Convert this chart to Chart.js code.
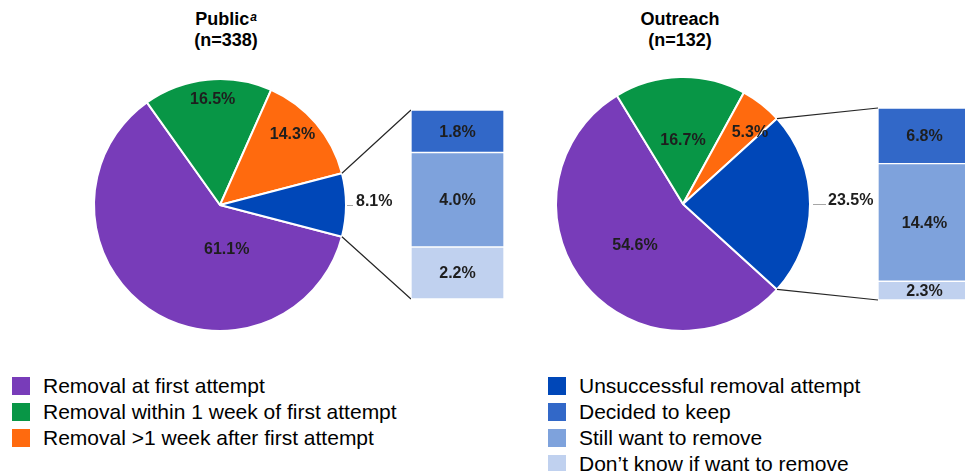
<!DOCTYPE html>
<html>
<head>
<meta charset="utf-8">
<script src="https://cdn.jsdelivr.net/npm/chart.js@4.4.0/dist/chart.umd.min.js"></script>
<style>
html,body{margin:0;padding:0;background:#fff;overflow:hidden;}
#wrap{position:relative;width:965px;height:471px;overflow:hidden;font-family:"Liberation Sans",Arial,sans-serif;color:#000;}
#wrap canvas{position:absolute;}
.title{position:absolute;top:9px;width:200px;font-weight:bold;font-size:18px;line-height:21px;text-align:center;}
.title sup{font-style:italic;font-size:12px;vertical-align:top;position:relative;top:-2px;margin-left:1px;}
.legend{position:absolute;font-size:21px;}
.legend .item{position:relative;height:26px;line-height:26px;white-space:nowrap;padding-left:31px;}
.legend .sw{position:absolute;left:0;top:4px;width:18px;height:18px;}
</style>
</head>
<body>
<div id="wrap">
  <div class="title" style="left:126px">Public<sup>a</sup><br>(n=338)</div>
  <div class="title" style="left:580px">Outreach<br>(n=132)</div>
  <canvas id="pie1" width="480" height="350" style="left:0;top:0"></canvas>
  <canvas id="pie2" width="485" height="350" style="left:480px;top:0"></canvas>
  <canvas id="bar1" width="93" height="189" style="left:411px;top:110px"></canvas>
  <canvas id="bar2" width="93" height="192" style="left:878px;top:108px"></canvas>
  <div class="legend" id="legLeft" style="left:12px;top:373px"></div>
  <div class="legend" id="legRight" style="left:548px;top:373px"></div>
</div>
<script>
// ---- data ----
const pieCategories = ["Removal at first attempt", "Removal within 1 week of first attempt", "Removal >1 week after first attempt", "Unsuccessful removal attempt"];
const barCategories = ["Don\u2019t know if want to remove", "Still want to remove", "Decided to keep"]; // bottom -> top
const publicPie = [61.1, 16.5, 14.3, 8.1];
const outreachPie = [54.6, 16.7, 5.3, 23.5];
const publicBar = [2.2, 4.0, 1.8];
const outreachBar = [2.3, 14.4, 6.8];

// ---- style ----
const pieColors = ["#783CB9", "#089646", "#FF6A0E", "#0047B8"];
const barColors = ["#C0D1EF", "#7EA2DC", "#3268C8"];
const FONT = '"Liberation Sans", Arial, sans-serif';
const LABEL_FONT = 'bold 16px ' + FONT;

// label placement per slice: [angle in degrees (clockwise from 3 o'clock), fraction of radius]
const pie1LabelPos = [[81.5, 0.36], [266, 0.835], [316, 0.8], null];
const pie2LabelPos = [[139.2, 0.5], [270, 0.5], [313.2, 0.77], null];

function fmt(v){ return v.toFixed(1) + "%"; }

// ---- bar charts ----
const barLabelPlugin = {
  id: 'barLabels',
  afterDatasetsDraw(chart){
    const ctx = chart.ctx;
    ctx.save();
    ctx.font = LABEL_FONT;
    ctx.fillStyle = '#1e1e1e';
    ctx.textAlign = 'center';
    ctx.textBaseline = 'middle';
    chart.data.datasets.forEach((ds, i) => {
      const el = chart.getDatasetMeta(i).data[0];
      ctx.fillText(fmt(ds.data[0]), el.x, (el.y + el.base) / 2 + 1);
    });
    ctx.restore();
  }
};

function makeBar(id, values){
  const total = values.reduce((a, b) => a + b, 0);
  return new Chart(document.getElementById(id), {
    type: 'bar',
    data: {
      labels: [''],
      datasets: values.map((v, i) => ({
        label: barCategories[i],
        data: [v],
        backgroundColor: barColors[i],
        borderColor: '#ffffff',
        borderWidth: 1,
        borderSkipped: false,
        barPercentage: 1,
        categoryPercentage: 1
      }))
    },
    options: {
      responsive: false,
      animation: false,
      events: [],
      layout: { padding: 0 },
      scales: {
        x: { display: false, stacked: true },
        y: { display: false, stacked: true, min: 0, max: total }
      },
      plugins: { legend: { display: false }, tooltip: { enabled: false } }
    },
    plugins: [barLabelPlugin]
  });
}

const bar1 = makeBar('bar1', publicBar);
const bar2 = makeBar('bar2', outreachBar);

// ---- pie charts ----
function makePiePlugin(labelPos, barChart, outside){
  return {
    id: 'pieExtras',
    afterDatasetsDraw(chart){
      const ctx = chart.ctx;
      const meta = chart.getDatasetMeta(0);
      const data = chart.data.datasets[0].data;
      ctx.save();
      ctx.font = LABEL_FONT;
      ctx.fillStyle = '#1e1e1e';
      ctx.textBaseline = 'middle';
      meta.data.forEach((arc, i) => {
        const r = arc.outerRadius;
        const pos = labelPos[i];
        if (pos) {
          const a = pos[0] * Math.PI / 180;
          ctx.textAlign = 'center';
          ctx.fillText(fmt(data[i]), arc.x + Math.cos(a) * r * pos[1], arc.y + Math.sin(a) * r * pos[1]);
        } else {
          const mid = (arc.startAngle + arc.endAngle) / 2;
          const cx = arc.x + Math.cos(mid) * r, cy = arc.y + Math.sin(mid) * r;
          ctx.strokeStyle = '#A6A6A6';
          ctx.lineWidth = 1;
          ctx.beginPath();
          ctx.moveTo(cx + outside.l0, cy + 0.5);
          ctx.lineTo(cx + outside.l1, cy + 0.5);
          ctx.stroke();
          ctx.textAlign = 'left';
          ctx.fillText(fmt(data[i]), cx + outside.tx, cy - 3);
        }
      });
      // connector lines from the exploded slice to the bar
      const arc = meta.data[meta.data.length - 1];
      const r = arc.outerRadius;
      const dx = barChart.canvas.offsetLeft - chart.canvas.offsetLeft;
      const dy = barChart.canvas.offsetTop - chart.canvas.offsetTop;
      const nb = barChart.data.datasets.length;
      const topEl = barChart.getDatasetMeta(nb - 1).data[0];
      const botEl = barChart.getDatasetMeta(0).data[0];
      const bx = topEl.x - topEl.width / 2 + dx;
      const byTop = topEl.y + dy;
      const byBot = botEl.base + dy;
      ctx.strokeStyle = '#262626';
      ctx.lineWidth = 1.2;
      ctx.beginPath();
      ctx.moveTo(arc.x + Math.cos(arc.startAngle) * r, arc.y + Math.sin(arc.startAngle) * r);
      ctx.lineTo(bx, byTop);
      ctx.moveTo(arc.x + Math.cos(arc.endAngle) * r, arc.y + Math.sin(arc.endAngle) * r);
      ctx.lineTo(bx, byBot);
      ctx.stroke();
      ctx.restore();
    }
  };
}

function makePie(id, values, labelPos, barChart, padding, radius, outside){
  // start the first slice so that the last (exploded) slice is centred at 3 o'clock
  const last = values[values.length - 1];
  const total = values.reduce((a, b) => a + b, 0);
  const startDeg = (last / total) * 180; // clockwise from 3 o'clock
  return new Chart(document.getElementById(id), {
    type: 'pie',
    data: {
      labels: pieCategories,
      datasets: [{
        data: values,
        backgroundColor: pieColors,
        borderColor: '#ffffff',
        borderWidth: 2,
        radius: radius
      }]
    },
    options: {
      responsive: false,
      animation: false,
      events: [],
      rotation: startDeg + 90,
      layout: { padding: padding },
      plugins: { legend: { display: false }, tooltip: { enabled: false } }
    },
    plugins: [makePiePlugin(labelPos, barChart, outside)]
  });
}

makePie('pie1', publicPie, pie1LabelPos, bar1, { left: 94, right: 134, top: 79, bottom: 19 }, 126, { l0: 1, l1: 7, tx: 10 });
makePie('pie2', outreachPie, pie2LabelPos, bar2, { left: 76, right: 155, top: 77, bottom: 19 }, 127, { l0: 3, l1: 16, tx: 18 });

// ---- legends (HTML text built from the category arrays) ----
function addItems(el, names, colors){
  names.forEach((n, i) => {
    const d = document.createElement('div');
    d.className = 'item';
    const s = document.createElement('span');
    s.className = 'sw';
    s.style.background = colors[i];
    d.appendChild(s);
    d.appendChild(document.createTextNode(n));
    el.appendChild(d);
  });
}
addItems(document.getElementById('legLeft'), pieCategories.slice(0, 3), pieColors.slice(0, 3));
addItems(document.getElementById('legRight'),
  [pieCategories[3]].concat(barCategories.slice().reverse()),
  [pieColors[3]].concat(barColors.slice().reverse()));
</script>
</body>
</html>
